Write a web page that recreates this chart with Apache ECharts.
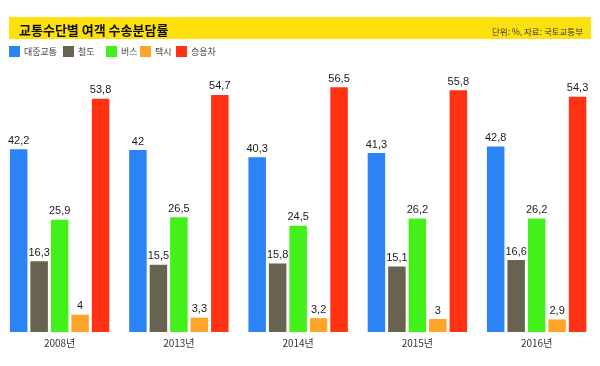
<!DOCTYPE html>
<html>
<head>
<meta charset="utf-8">
<script src="https://cdn.jsdelivr.net/npm/echarts@6/dist/echarts.min.js"></script>
<style>html,body{margin:0;padding:0;background:#fff;}#c{width:600px;height:366px;}</style>
</head>
<body>
<div id="c"></div>
<script>
const categories = ['2008년', '2013년', '2014년', '2015년', '2016년'];
const seriesNames = ['대중교통', '철도', '버스', '택시', '승용차'];
const publicTransit = [42.2, 42, 40.3, 41.3, 42.8];
const rail = [16.3, 15.5, 15.8, 15.1, 16.6];
const bus = [25.9, 26.5, 24.5, 26.2, 26.2];
const taxi = [4, 3.3, 3.2, 3, 2.9];
const car = [53.8, 54.7, 56.5, 55.8, 54.3];
const colors = ['#2B83F6', '#676350', '#44F01A', '#FFA42A', '#FF3314'];
const seriesData = [publicTransit, rail, bus, taxi, car];
const legendLefts = [9, 63, 106, 140, 176];

const font = '"Noto Sans CJK KR", "Noto Sans", sans-serif';
const numFont = '"Liberation Sans", Arial, sans-serif';
const chart = echarts.init(document.getElementById('c'), null, {renderer: 'canvas'});
chart.setOption({
  animation: false,
  backgroundColor: '#fff',
  graphic: [{
    type: 'rect', shape: {x: 9, y: 17, width: 582, height: 22},
    style: {fill: '#FFE00F'}, z: 0
  }],
  title: [{
    text: '교통수단별 여객 수송분담률',
    left: 14, top: 19,
    textStyle: {fontFamily: font, fontSize: 13, fontWeight: 'bold', color: '#111'}
  }, {
    text: '단위: %, 자료: 국토교통부',
    right: 12, top: 23,
    textStyle: {fontFamily: font, fontSize: 8.5, fontWeight: 'normal', color: '#333'}
  }],
  legend: seriesNames.map((name, i) => ({
    left: legendLefts[i], top: 46, padding: 0,
    itemWidth: 11, itemHeight: 11, itemGap: 0,
    icon: 'rect',
    textStyle: {fontFamily: font, fontSize: 9, color: '#444', padding: [0, 0, 0, -1]},
    data: [name]
  })),
  grid: {left: -1.25, right: 3.75, top: 72, bottom: 34},
  xAxis: {
    type: 'category', data: categories,
    axisLine: {show: false}, axisTick: {show: false},
    axisLabel: {fontFamily: font, fontSize: 10, color: '#333', margin: 6}
  },
  yAxis: {type: 'value', min: 0, max: 60, show: false, splitLine: {show: false}},
  series: seriesNames.map((name, i) => ({
    name: name, type: 'bar', data: seriesData[i],
    barWidth: 17.5, barGap: '17%',
    itemStyle: {color: colors[i]},
    label: {
      show: true, position: 'top', distance: 3,
      fontFamily: numFont, fontSize: 11, color: '#1a1a1a',
      formatter: p => String(p.value).replace('.', ',')
    }
  }))
});
</script>
</body>
</html>
